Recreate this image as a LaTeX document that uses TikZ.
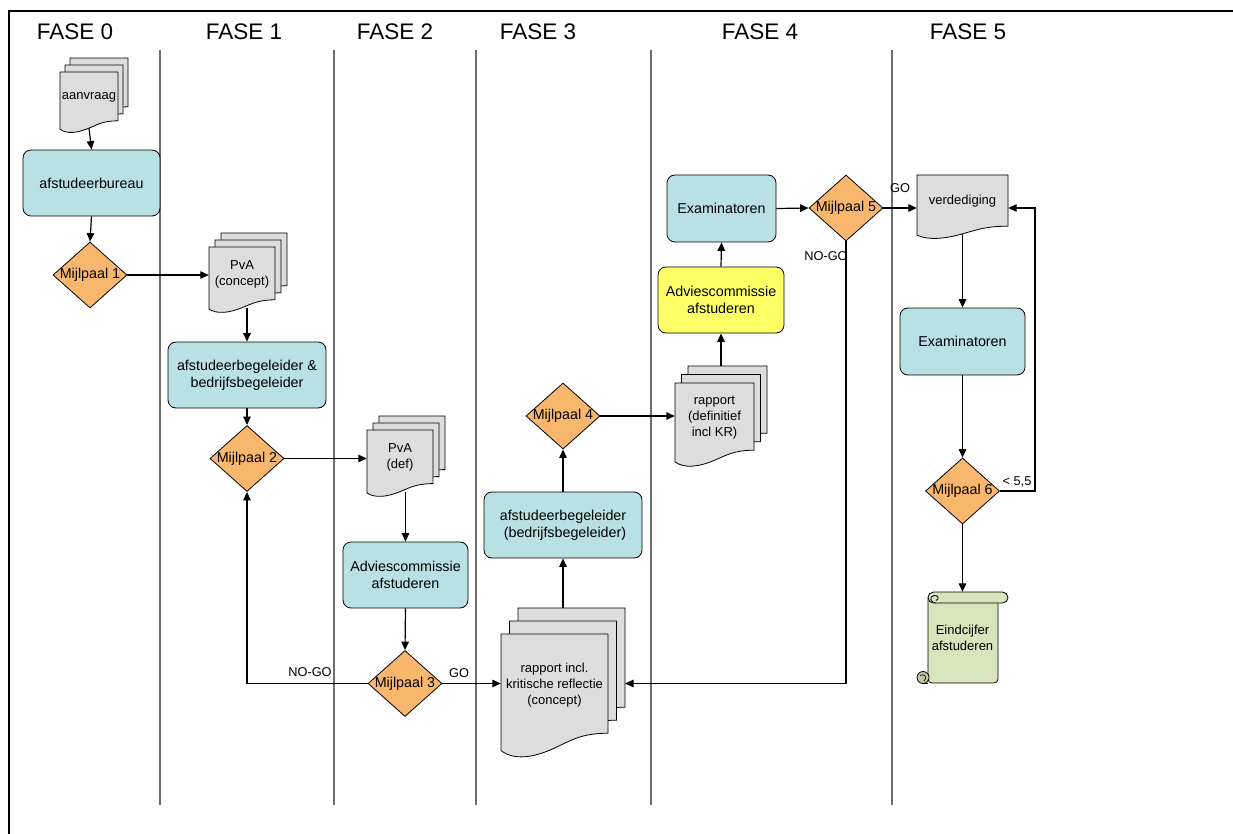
\documentclass[tikz,border=0pt]{standalone}
\usepackage{fontspec}
\setmainfont{Liberation Sans}
\usetikzlibrary{shapes.geometric,arrows.meta,calc}
\definecolor{tealbox}{RGB}{185,224,227}
\definecolor{orangeM}{RGB}{249,183,110}
\definecolor{docgray}{RGB}{221,221,221}
\definecolor{yellowbox}{RGB}{255,255,102}
\definecolor{scrollgreen}{RGB}{216,228,188}
\definecolor{scrolldark}{RGB}{190,200,165}
\definecolor{lanegray}{RGB}{110,110,110}
\tikzset{
  box/.style={draw=black, line width=0.8pt, rounded corners=8pt, fill=tealbox, align=center,
    font=\fontsize{14.3}{17}\selectfont, inner sep=0pt},
  diam/.style={draw=black, shape=diamond, fill=orangeM, minimum width=74pt, minimum height=66pt,
    inner sep=0pt, line width=0.8pt},
  dlabel/.style={font=\fontsize{14.3}{17}\selectfont, inner sep=0pt},
  docsty/.style={draw=black, fill=docgray, line width=0.8pt},
  doctext/.style={align=center, font=\fontsize{13}{16}\selectfont, inner sep=0pt},
  arr/.style={-{Triangle[length=8.5pt,width=7.5pt]}, line width=1.2pt},
  lane/.style={draw=lanegray, line width=1.6pt},
  title/.style={font=\fontsize{22.5}{26}\selectfont, inner sep=0pt},
  lab/.style={font=\fontsize{12.8}{15}\selectfont, inner sep=0pt},
  scrollsty/.style={draw=black, fill=scrollgreen, line width=0.8pt}
}
\newcommand\docpath[4]{%
  \path[docsty] ({#1},{#2}) -- ({#1+#3},{#2}) -- ({#1+#3},{#2+0.8*#4})
    .. controls ({#1+0.75*#3},{#2+0.8*#4}) and ({#1+0.65*#3},{#2+0.86*#4}) .. ({#1+0.5*#3},{#2+0.92*#4})
    .. controls ({#1+0.3*#3},{#2+1.0*#4}) and ({#1+0.12*#3},{#2+1.02*#4}) .. ({#1},{#2+0.94*#4}) -- cycle;}
\newcommand\docnode[6]{%
  \docpath{#2}{#3}{#4}{#5}
  \node[doctext, minimum width=#4, minimum height={0.82*#5}] (#1) at ({#2+0.5*#4},{#3+0.41*#5}) {#6};
  \coordinate (#1-b) at ({#2+0.5*#4},{#3+0.92*#5});}
\newcommand\docstack[8]{%
  \docpath{#2+2*#6}{#3-2*#7}{#4}{#5}
  \coordinate (#1-t) at ({#2+0.5*#4+2*#6},{#3-2*#7});
  \coordinate (#1-e) at ({#2+#4+2*#6},{#3+0.4*#5});
  \docpath{#2+#6}{#3-#7}{#4}{#5}
  \docnode{#1}{#2}{#3}{#4}{#5}{#8}}
\begin{document}
\begin{tikzpicture}[x=1pt,y=-1pt]
\useasboundingbox (0,0) rectangle (1233,834);
% border
\draw[line width=2pt] (1233,10.8) -- (7.5,10.8);
\draw[line width=2pt] (8.5,10) -- (8.5,834);
\draw[line width=2.4pt] (1080,11) -- (1233,11);
% lanes
\foreach \lx in {160,334,476,651,892} { \draw[lane] (\lx,50) -- (\lx,805); }
% titles
\node[title] (t0) at (75,32) {FASE 0};
\node[title] (t1) at (244,32) {FASE 1};
\node[title] (t2) at (395,32) {FASE 2};
\node[title] (t3) at (538,32) {FASE 3};
\node[title] (t4) at (760,32) {FASE 4};
\node[title] (t5) at (968,32) {FASE 5};

% documents
\docstack{aanv}{60}{72}{58}{61}{5}{7}{aanvraag}
\docstack{pvac}{209}{247}{66}{66}{6}{7}{PvA\\(concept)}
\docstack{pvad}{367}{430}{66}{67}{6}{7}{PvA\\(def)}
\docstack{rapp}{501}{634}{107}{124}{8.5}{13}{rapport incl.\\kritische reflectie\\(concept)}
\docstack{rappd}{675}{383}{79}{84}{6.5}{8.5}{rapport\\(definitief\\incl KR)}
\docnode{verd}{917}{175}{91}{64}{verdediging}

% boxes
\node[box, minimum width=137, minimum height=66] (bureau) at (91.5,183) {afstudeerbureau};
\node[box, minimum width=158, minimum height=66] (begel1) at (247,375) {afstudeerbegeleider \&\\bedrijfsbegeleider};
\node[box, minimum width=158, minimum height=66] (begel2) at (563,525) {afstudeerbegeleider\\\ (bedrijfsbegeleider)};
\node[box, minimum width=125, minimum height=66] (advies1) at (405.5,575) {Adviescommissie\\afstuderen};
\node[box, fill=yellowbox, minimum width=126, minimum height=66] (advies2) at (721,300) {Adviescommissie\\afstuderen};
\node[box, minimum width=109, minimum height=67] (exam1) at (721.5,208.5) {Examinatoren};
\node[box, minimum width=125, minimum height=67] (exam2) at (962.5,341.5) {Examinatoren};

% diamonds
\node[diam, label={[dlabel]center:Mijlpaal 1}] (m1) at (90,275) {};
\node[diam, label={[dlabel]center:Mijlpaal 2}] (m2) at (247,458.5) {};
\node[diam, label={[dlabel]center:Mijlpaal 3}] (m3) at (405,683.5) {};
\node[diam, label={[dlabel]center:Mijlpaal 4}] (m4) at (563,416) {};
\node[diam, label={[dlabel]center:Mijlpaal 5}] (m5) at (846,208) {};
\node[diam, label={[dlabel]center:Mijlpaal 6}] (m6) at (962.5,491) {};

% scroll
\path[scrollsty, rounded corners=4pt] (928,598) -- (928,683) -- (998,683) -- (998,598);
\path[scrollsty, rounded corners=5.5pt] (928,592) rectangle (1008,603);
\draw[line width=0.8pt] (936,603) .. controls (930,603) and (929,596) .. (934,595.5)
  .. controls (938,595) and (940,599) .. (936,600.5);
\filldraw[fill=scrolldark, draw=black, line width=0.8pt] (923,677.5) circle (6);
\draw[line width=0.8pt] (923,683.5) -- (928,683.5);
\draw[line width=0.7pt] (920,675.5) .. controls (924,673) and (928,677) .. (924,681);
\node[doctext, minimum width=70, minimum height=91] (eind) at (962.5,637.5) {Eindcijfer\\afstuderen};

% connectors
\draw[arr] (aanv-b) -- (bureau.north);
\draw[arr] (bureau.south) -- (m1.north);
\draw[arr] (m1.east) -- (m1.east -| pvac.west);
\draw[arr] (begel1.north |- pvac-b) -- (begel1.north);
\draw[arr] (begel1.south) -- (m2.north);
\draw[arr] (m2.east) -- (m2.east -| pvad.west);
\draw[arr] (advies1.north |- pvad-b) -- (advies1.north);
\draw[arr] (advies1.south) -- (m3.north);
\draw[arr] (m3.east) -- (m3.east -| rapp.west);
\draw[arr] (m3.west) -| (m2.south);
\draw[arr] (begel2.south |- rapp-t) -- (begel2.south);
\draw[arr] (begel2.north) -- (m4.south);
\draw[arr] (m4.east) -- (m4.east -| rappd.west);
\draw[arr] (advies2.south |- rappd-t) -- (advies2.south);
\draw[arr] (advies2.north) -- (exam1.south);
\draw[arr] (exam1.east) -- (m5.west);
\draw[arr] (m5.east) -- (m5.east -| verd.west);
\draw[arr] (m5.south) |- (rapp-e |- m3.east);
\draw[arr] (verd-b) -- (exam2.north);
\draw[arr] (exam2.south) -- (m6.north);
\draw[arr] (m6.east) -- ++(35,0) |- (m5.east -| verd.east);
\draw[arr] (m6.south) -- (eind.north);

% labels
\node[lab] (lgo3) at (459,673) {GO};
\node[lab] (lnogo3) at (310,672) {NO-GO};
\node[lab] (lgo5) at (900,188) {GO};
\node[lab] (lnogo5) at (826,256) {NO-GO};
\node[lab] (l55) at (1017,482) {< 5,5};
\end{tikzpicture}
\end{document}
